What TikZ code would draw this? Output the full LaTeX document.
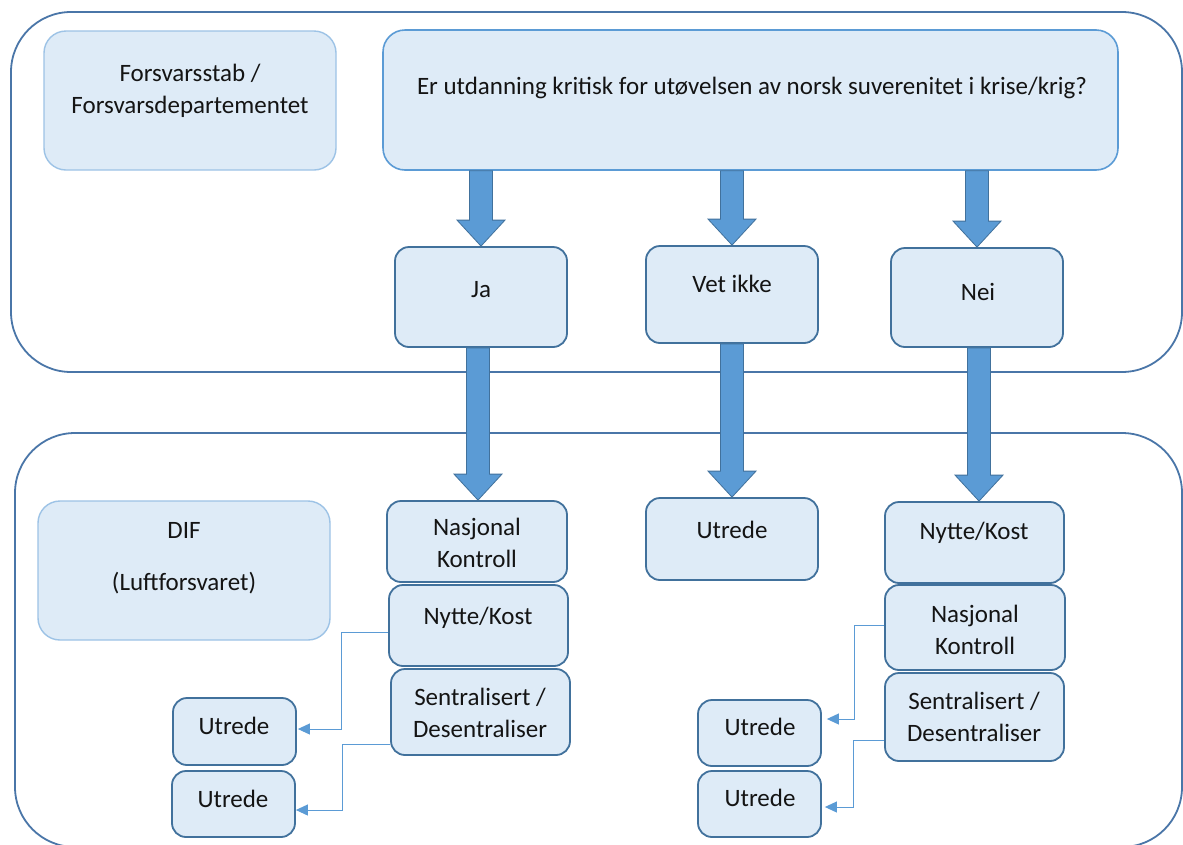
\documentclass[tikz,border=0pt]{standalone}
\usepackage{fontspec}
\setmainfont{Carlito}
\usetikzlibrary{arrows.meta,calc}
\definecolor{boxfill}{HTML}{DEEBF7}
\definecolor{darkline}{HTML}{41719C}
\definecolor{midline}{HTML}{5B9BD5}
\definecolor{lightline}{HTML}{9DC3E6}
\definecolor{framecol}{HTML}{4A76A8}
\tikzset{
  frame/.style={draw=framecol,line width=1.8pt,rounded corners=60pt},
  darkbox/.style={draw=darkline,fill=boxfill,line width=1.8pt,rounded corners=14pt,inner sep=0pt},
  lightbox/.style={draw=lightline,fill=boxfill,line width=1.4pt,rounded corners=22pt,inner sep=0pt},
  qbox/.style={draw=midline,fill=boxfill,line width=1.6pt,rounded corners=22pt,inner sep=0pt},
  txt/.style={font=\fontsize{25}{32}\selectfont,align=center,inner sep=0pt,text=black!92},
  bigarrow/.style={fill=midline,draw=darkline,line width=0.8pt},
  conn/.style={draw=midline,line width=1pt,-{Triangle[length=12pt,width=11pt]}},
}
\newcommand{\bigarr}[2]{%
  \path[bigarrow] let \p1=(#1), \p2=(#2) in
    (\x2-11.5pt,\y1) -- (\x2+11.5pt,\y1) -- (\x2+11.5pt,\y2+26pt) -- (\x2+24pt,\y2+26pt)
    -- (\x2,\y2) -- (\x2-24pt,\y2+26pt) -- (\x2-11.5pt,\y2+26pt) -- cycle;}
\begin{document}
\begin{tikzpicture}[x=1pt,y=-1pt]
\useasboundingbox (0,0) rectangle (1183,844);
\fill[white] (0,0) rectangle (1183,844);
% frames
\draw[frame] (11,12) rectangle (1182,372);
\draw[frame] (15,433) rectangle (1182,847);
% top boxes
\node[lightbox,minimum width=292pt,minimum height=139pt] (fs) at (190,100.5) {};
\node[txt] (fst) at (190,91) {Forsvarsstab /\\Forsvarsdepartementet};
\node[qbox,minimum width=735pt,minimum height=140pt] (q) at (750.5,100) {};
\node[txt] (qt) at (752,88) {Er utdanning kritisk for utøvelsen av norsk suverenitet i krise/krig?};
\node[darkbox,minimum width=172pt,minimum height=100pt] (ja) at (481,297) {};
\node[txt] (jat) at (481,290) {Ja};
\node[darkbox,minimum width=172pt,minimum height=97pt] (vi) at (732,294.5) {};
\node[txt] (vit) at (732,284) {Vet ikke};
\node[darkbox,minimum width=172pt,minimum height=99pt] (nei) at (977,297.5) {};
\node[txt] (neit) at (978,292) {Nei};
% bottom boxes
\node[lightbox,minimum width=292pt,minimum height=139pt] (dif) at (184,570.5) {};
\node[txt] (dift) at (184,558) {DIF\\[20pt](Luftforsvaret)};
\node[darkbox,minimum width=180pt,minimum height=81pt] (nk1) at (477,541.5) {};
\node[txt] (nk1t) at (477,543) {Nasjonal\\Kontroll};
\node[darkbox,minimum width=179pt,minimum height=81pt] (nc1) at (478.5,625.5) {};
\node[txt] (nc1t) at (478,618) {Nytte/Kost};
\node[darkbox,minimum width=179pt,minimum height=86pt] (sd1) at (480.5,712) {};
\node[txt] (sd1t) at (480,713) {Sentralisert /\\Desentraliser};
\node[darkbox,minimum width=172pt,minimum height=82pt] (ut0) at (732,539) {};
\node[txt] (ut0t) at (732,530) {Utrede};
\node[darkbox,minimum width=179pt,minimum height=81pt] (nc2) at (974.5,542.5) {};
\node[txt] (nc2t) at (974,533) {Nytte/Kost};
\node[darkbox,minimum width=180pt,minimum height=85pt] (nk2) at (975,627.5) {};
\node[txt] (nk2t) at (975,630) {Nasjonal\\Kontroll};
\node[darkbox,minimum width=179pt,minimum height=88pt] (sd2) at (974.5,717) {};
\node[txt] (sd2t) at (974,717) {Sentralisert /\\Desentraliser};
\node[darkbox,minimum width=123pt,minimum height=67pt] (u1) at (234.5,731.5) {};
\node[txt] (u1t) at (234,726) {Utrede};
\node[darkbox,minimum width=123pt,minimum height=66pt] (u2) at (233.5,804) {};
\node[txt] (u2t) at (233,799) {Utrede};
\node[darkbox,minimum width=123pt,minimum height=66pt] (u3) at (759.5,733) {};
\node[txt] (u3t) at (760,727) {Utrede};
\node[darkbox,minimum width=123pt,minimum height=66pt] (u4) at (759.5,804) {};
\node[txt] (u4t) at (760,798) {Utrede};
% big arrows
\bigarr{q.south}{ja.north}
\bigarr{q.south}{vi.north}
\bigarr{q.south}{nei.north}
\path let \p1=(ja.south), \p2=(nk1.north) in coordinate (jaend) at (478pt,\y2);
\bigarr{ja.south}{jaend}
\bigarr{vi.south}{ut0.north}
\path let \p1=(nei.south), \p2=(nc2.north) in coordinate (neiend) at (979pt,\y2);
\bigarr{nei.south}{neiend}
% connectors
\draw[conn] ([yshift=-6.5pt]nc1.west) -- ++(-47,0) |- ([xshift=1pt,yshift=2.5pt]u1.east);
\draw[conn] ([yshift=-32pt]sd1.west) -- ++(-48,0) |- ([xshift=0pt,yshift=-6pt]u2.east);
\draw[conn] ([yshift=2.5pt]nk2.west) -- ++(-30,0) |- ([xshift=5pt,yshift=14pt]u3.east);
\draw[conn] ([yshift=-23pt]sd2.west) -- ++(-31,0) |- ([xshift=3pt,yshift=-3pt]u4.east);
\end{tikzpicture}
\end{document}
